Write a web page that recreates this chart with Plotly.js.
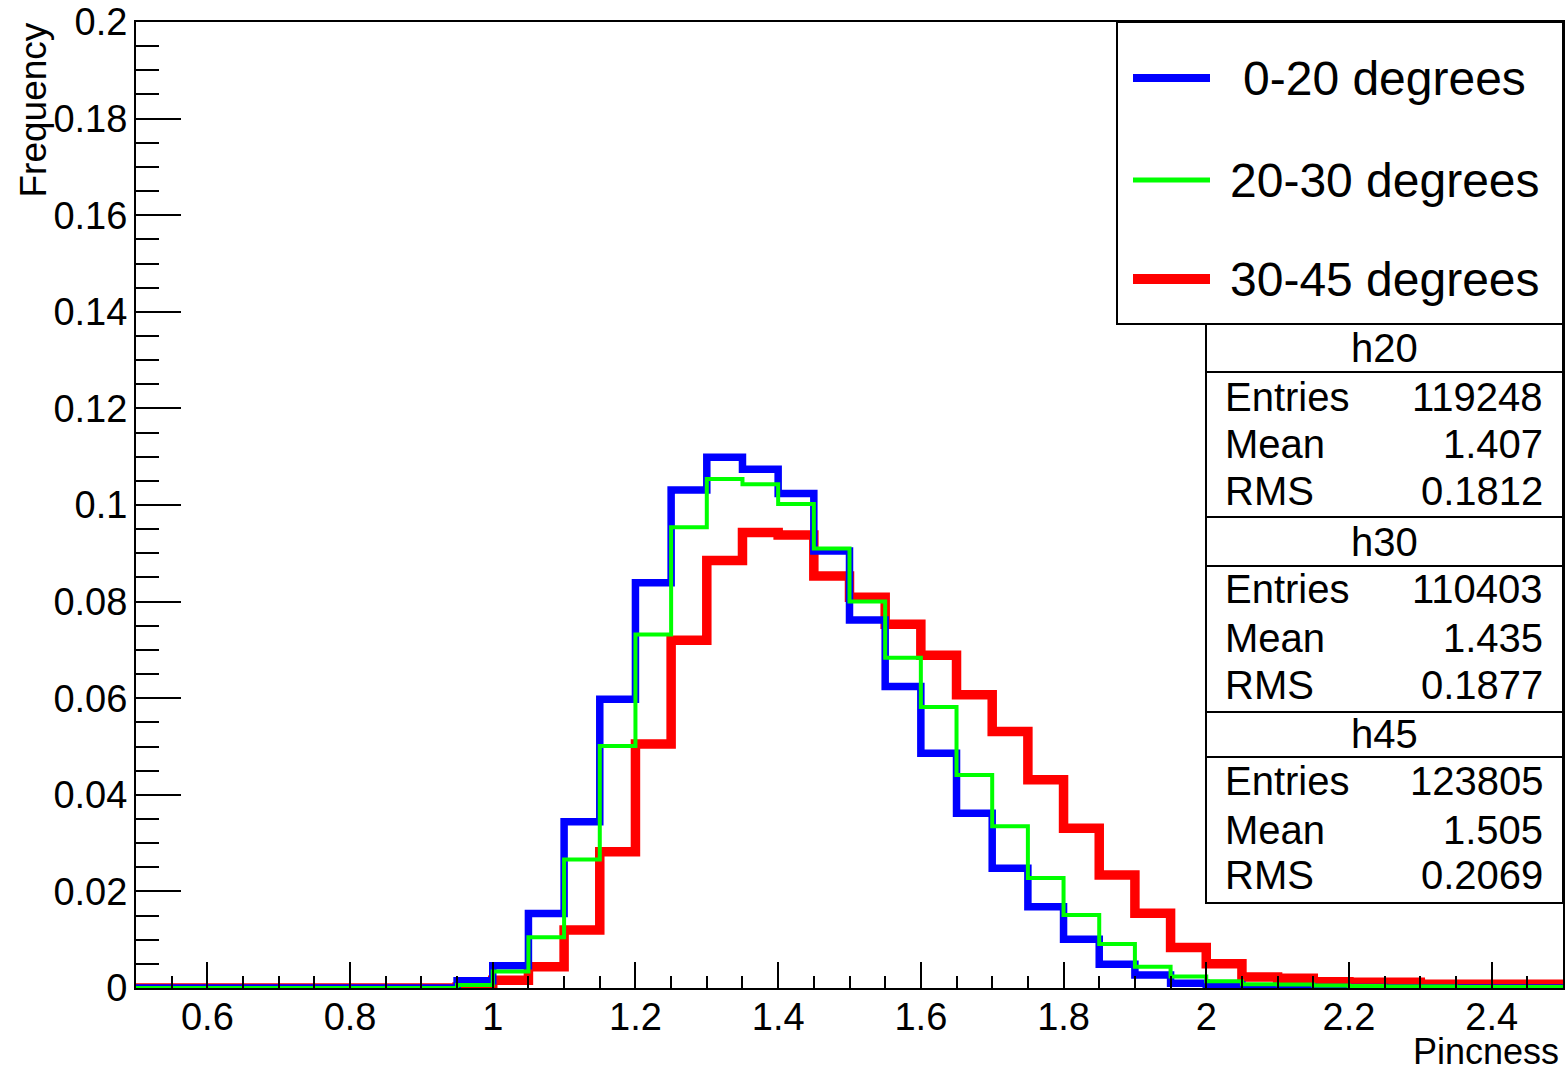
<!DOCTYPE html>
<html>
<head>
<meta charset="utf-8">
<script src="https://cdn.plot.ly/plotly-3.0.1.min.js"></script>
<style>html,body{margin:0;padding:0;background:#fff;}#chart{width:1565px;height:1075px;}</style>
</head>
<body>
<div id="chart"></div>
<script>
// Bin edges (Pincness), 40 bins of width 0.05 from 0.5 to 2.5
var binEdges = [0.5,0.55,0.6,0.65,0.7,0.75,0.8,0.85,0.9,0.95,
                1.0,1.05,1.1,1.15,1.2,1.25,1.3,1.35,1.4,1.45,
                1.5,1.55,1.6,1.65,1.7,1.75,1.8,1.85,1.9,1.95,
                2.0,2.05,2.1,2.15,2.2,2.25,2.3,2.35,2.4,2.45,2.5];

// Frequency per bin
var h20 = [0,0,0,0,0,0,0,0,0,0.0015,
           0.0046,0.0154,0.0344,0.0598,0.0839,0.1031,0.1099,0.1074,0.1024,0.0905,
           0.0762,0.0624,0.0486,0.0362,0.0248,0.0168,0.0101,0.0049,0.0027,0.0010,
           0.0006,0.0002,0.0002,0.0001,0.0001,0,0,0,0,0];
var h30 = [0,0,0,0,0,0,0,0,0,0.0006,
           0.0034,0.0105,0.0266,0.0501,0.0732,0.0954,0.1054,0.1043,0.1002,0.0910,
           0.0800,0.0684,0.0582,0.0441,0.0335,0.0228,0.0151,0.0091,0.0044,0.0024,
           0.0014,0.0008,0.0007,0.0005,0.0004,0.0003,0.0003,0.0002,0.0002,0.0002];
var h45 = [0,0,0,0,0,0,0,0,0,0.0002,
           0.0016,0.0044,0.0120,0.0282,0.0505,0.0720,0.0885,0.0943,0.0938,0.0853,
           0.0809,0.0753,0.0689,0.0607,0.0531,0.0431,0.0331,0.0234,0.0155,0.0084,
           0.0050,0.0023,0.0020,0.0013,0.0012,0.0012,0.0008,0.0008,0.0008,0.0008];

var seriesNames = ["0-20 degrees", "20-30 degrees", "30-45 degrees"];
var statNames = ["h20", "h30", "h45"];
var statEntries = ["119248", "110403", "123805"];
var statMean = ["1.407", "1.435", "1.505"];
var statRMS = ["0.1812", "0.1877", "0.2069"];

var xTickVals = [0.6,0.8,1.0,1.2,1.4,1.6,1.8,2.0,2.2,2.4];
var xTickText = ["0.6","0.8","1","1.2","1.4","1.6","1.8","2","2.2","2.4"];
var yTickVals = [0,0.02,0.04,0.06,0.08,0.1,0.12,0.14,0.16,0.18,0.2];
var yTickText = ["0","0.02","0.04","0.06","0.08","0.1","0.12","0.14","0.16","0.18","0.2"];

var FONT = "Liberation Sans, Arial, Helvetica, sans-serif";
var W = 1565, H = 1075;
var L = 136, R = 1563, T = 22, B = 988;
function px(x){ return (x - L) / (R - L); }
function py(y){ return (B - y) / (B - T); }
function stepY(v){ return v.concat([v[v.length-1]]); }

function histTrace(vals, name, color, width){
  return {
    type: "scatter", mode: "lines", name: name,
    x: binEdges, y: stepY(vals),
    line: {shape: "hv", color: color, width: width},
    showlegend: false, hoverinfo: "x+y+name"
  };
}

var traces = [
  histTrace(h45, seriesNames[2], "#ff0000", 9.5),
  histTrace(h20, seriesNames[0], "#0000ff", 7.5),
  histTrace(h30, seriesNames[1], "#00ff00", 4)
];

var shapes = [];
var annotations = [];

// Legend box
shapes.push({type:"rect", xref:"paper", yref:"paper", x0:px(1117), x1:px(1563), y0:py(324), y1:py(22),
  fillcolor:"#ffffff", line:{color:"#000", width:2}, layer:"above"});
var legColors = ["#0000ff", "#00ff00", "#ff0000"];
var legWidths = [8, 5, 10];
var legY = [78, 180, 279];
var legTextX = [1241, 1228, 1228];
for (var i = 0; i < 3; i++) {
  shapes.push({type:"line", xref:"paper", yref:"paper", x0:px(1133), x1:px(1210), y0:py(legY[i]), y1:py(legY[i]),
    line:{color:legColors[i], width:legWidths[i]}, layer:"above"});
  annotations.push({xref:"paper", yref:"paper", x:px(legTextX[i]), y:py(legY[i]), xanchor:"left", yanchor:"middle",
    text:seriesNames[i], showarrow:false, font:{family:FONT, size:48, color:"#000"}});
}

// Stats boxes
shapes.push({type:"rect", xref:"paper", yref:"paper", x0:px(1206), x1:px(1563), y0:py(903), y1:py(324),
  fillcolor:"#ffffff", line:{color:"#000", width:2}, layer:"above"});
var sepLines = [372, 517, 566, 712, 757];
sepLines.forEach(function(yy){
  shapes.push({type:"line", xref:"paper", yref:"paper", x0:px(1206), x1:px(1563), y0:py(yy), y1:py(yy),
    line:{color:"#000", width:2}, layer:"above"});
});
var headY = [348, 542, 734];
var rowY = [[397, 444, 491], [589, 638, 685], [781, 830, 875]];
var SFS = 40;
for (var k = 0; k < 3; k++) {
  annotations.push({xref:"paper", yref:"paper", x:px(1384.5), y:py(headY[k]), xanchor:"center", yanchor:"middle",
    text:statNames[k], showarrow:false, font:{family:FONT, size:SFS, color:"#000"}});
  var labels = ["Entries", "Mean", "RMS"];
  var vals = [statEntries[k], statMean[k], statRMS[k]];
  for (var r = 0; r < 3; r++) {
    annotations.push({xref:"paper", yref:"paper", x:px(1223), y:py(rowY[k][r]), xanchor:"left", yanchor:"middle",
      text:labels[r], showarrow:false, font:{family:FONT, size:SFS, color:"#000"}});
    annotations.push({xref:"paper", yref:"paper", x:px(1545), y:py(rowY[k][r]), xanchor:"right", yanchor:"middle",
      text:vals[r], showarrow:false, font:{family:FONT, size:SFS, color:"#000"}});
  }
}

// Axis titles
annotations.push({xref:"paper", yref:"paper", x:px(1561), y:py(1051), xanchor:"right", yanchor:"middle",
  text:"Pincness", showarrow:false, font:{family:FONT, size:36, color:"#000"}});
annotations.push({xref:"paper", yref:"paper", x:px(33), y:py(21), xanchor:"center", yanchor:"top",
  text:"Frequency", textangle:-90, showarrow:false, font:{family:FONT, size:37, color:"#000"}});

var layout = {
  width: W, height: H,
  margin: {l: L, r: W - R, t: T, b: H - B, pad: 0},
  paper_bgcolor: "#ffffff", plot_bgcolor: "#ffffff",
  showlegend: false,
  xaxis: {
    range: [0.5, 2.5], showgrid: false, zeroline: false,
    showline: true, mirror: true, linecolor: "#000", linewidth: 2,
    ticks: "inside", ticklen: 26, tickwidth: 2, tickcolor: "#000",
    tickvals: xTickVals, ticktext: xTickText,
    tickfont: {family: FONT, size: 38, color: "#000"},
    ticklabelstandoff: -6,
    minor: {ticks: "inside", ticklen: 12, tickwidth: 2, tickcolor: "#000", dtick: 0.05, tick0: 0.5, showgrid: false}
  },
  yaxis: {
    range: [0, 0.2], showgrid: false, zeroline: false,
    showline: true, mirror: true, linecolor: "#000", linewidth: 2,
    ticks: "inside", ticklen: 45, tickwidth: 2, tickcolor: "#000",
    tickvals: yTickVals, ticktext: yTickText,
    tickfont: {family: FONT, size: 38, color: "#000"},
    ticklabelstandoff: -1,
    minor: {ticks: "inside", ticklen: 23, tickwidth: 2, tickcolor: "#000", dtick: 0.005, tick0: 0, showgrid: false}
  },
  shapes: shapes,
  annotations: annotations
};

Plotly.newPlot("chart", traces, layout, {displayModeBar: false, staticPlot: true});
</script>
</body>
</html>
